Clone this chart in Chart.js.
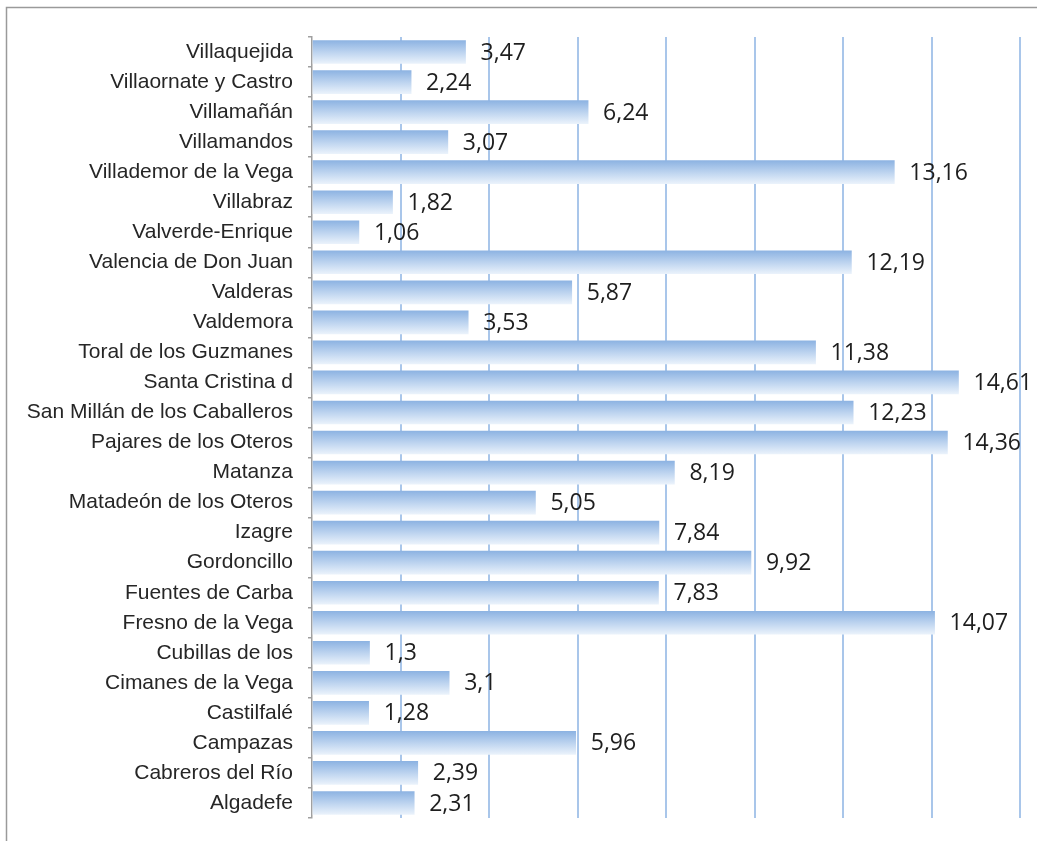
<!DOCTYPE html>
<html>
<head>
<meta charset="utf-8">
<script src="https://cdn.jsdelivr.net/npm/chart.js@4.4.1/dist/chart.umd.min.js"></script>
<style>
html,body{margin:0;padding:0;background:#fff;}
#wrap{position:relative;width:1037px;height:841px;}
canvas{display:block;}
</style>
</head>
<body>
<div id="wrap"><canvas id="c" width="1037" height="841"></canvas></div>
<script>
const categories = ["Villaquejida","Villaornate y Castro","Villamañán","Villamandos","Villademor de la Vega","Villabraz","Valverde-Enrique","Valencia de Don Juan","Valderas","Valdemora","Toral de los Guzmanes","Santa Cristina d","San Millán de los Caballeros","Pajares de los Oteros","Matanza","Matadeón de los Oteros","Izagre","Gordoncillo","Fuentes de Carba","Fresno de la Vega","Cubillas de los","Cimanes de la Vega","Castilfalé","Campazas","Cabreros del Río","Algadefe"];
const values = [3.47,2.24,6.24,3.07,13.16,1.82,1.06,12.19,5.87,3.53,11.38,14.61,12.23,14.36,8.19,5.05,7.84,9.92,7.83,14.07,1.3,3.1,1.28,5.96,2.39,2.31];
const xTicks = [0,2,4,6,8,10,12,14,16];

const BAR_T = 23;

const frame = {
  id:'frame',
  beforeDraw(chart){
    const c = chart.ctx;
    c.save();
    c.fillStyle='#fff';
    c.fillRect(0,0,chart.width,chart.height);
    c.strokeStyle='#9a9a9a';
    c.lineWidth=1.5;
    c.beginPath();
    c.moveTo(6.5,chart.height);
    c.lineTo(6.5,7.5);
    c.lineTo(chart.width,7.5);
    c.stroke();
    c.restore();
  }
};

const valueLabels = {
  id:'valueLabels',
  afterDatasetsDraw(chart){
    const c = chart.ctx;
    const meta = chart.getDatasetMeta(0);
    c.save();
    c.font = '23px "Open Sans"';
    c.fillStyle = '#1e1e1e';
    c.textBaseline = 'middle';
    c.textAlign = 'left';
    meta.data.forEach((bar,i)=>{
      const txt = String(values[i]).replace('.',',');
      c.fillText(txt, bar.x + 15, bar.y + 1);
    });
    c.restore();
  }
};

new Chart(document.getElementById('c'), {
  type:'bar',
  data:{
    labels:categories,
    datasets:[{
      data:values,
      barThickness:BAR_T,
      borderWidth:0,
      backgroundColor(ctx){
        const chart = ctx.chart;
        if(!chart.chartArea || !chart.scales.y) return '#b9d1ee';
        const yc = chart.scales.y.getPixelForValue(ctx.dataIndex);
        const g = chart.ctx.createLinearGradient(0, yc-BAR_T/2, 0, yc+BAR_T/2);
        g.addColorStop(0,'#8db3e2');
        g.addColorStop(0.5,'#bcd3ef');
        g.addColorStop(1,'#eaf2fb');
        return g;
      }
    }]
  },
  options:{
    indexAxis:'y',
    responsive:false,
    animation:false,
    events:[],
    layout:{padding:{top:37,bottom:23,left:0,right:17}},
    plugins:{legend:{display:false},tooltip:{enabled:false}},
    scales:{
      x:{
        min:0,max:16,
        afterBuildTicks(s){ s.ticks = xTicks.map(v=>({value:v})); },
        afterFit(s){ s.paddingLeft = 0; s.paddingRight = 0; },
        ticks:{display:false},
        grid:{color(ctx){return ctx.tick && ctx.tick.value===0 ? 'rgba(0,0,0,0)' : '#a9c6ea';}, lineWidth:2, drawTicks:false},
        border:{display:false}
      },
      y:{
        afterFit(s){ s.width = 312; s.paddingTop = 0; s.paddingBottom = 0; },
        ticks:{color:'#262626', font:{family:'"Liberation Sans", Arial, sans-serif', size:21}, padding:15, autoSkip:false},
        grid:{offset:true, drawOnChartArea:false, drawTicks:true, tickLength:4, color:'#a0a0a0', lineWidth:1.5},
        border:{display:true, color:'#a0a0a0', width:1.5}
      }
    }
  },
  plugins:[frame, valueLabels]
});
</script>
</body>
</html>
